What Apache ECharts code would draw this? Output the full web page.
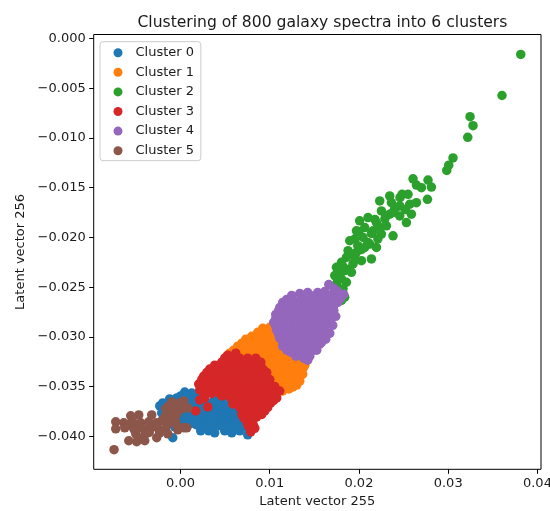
<!DOCTYPE html>
<html>
<head>
<meta charset="utf-8">
<script src="https://cdn.jsdelivr.net/npm/echarts@6/dist/echarts.min.js"></script>
<style>
html, body { margin: 0; padding: 0; background: #fff; }
#chart { width: 550px; height: 511px; }
</style>
</head>
<body>
<div id="chart"></div>
<script>
// Labels
const titleText = 'Clustering of 800 galaxy spectra into 6 clusters';
const xName = 'Latent vector 255';
const yName = 'Latent vector 256';
const clusterNames = ['Cluster 0', 'Cluster 1', 'Cluster 2', 'Cluster 3', 'Cluster 4', 'Cluster 5'];
const clusterColors = ['#1f77b4', '#ff7f0e', '#2ca02c', '#d62728', '#9467bd', '#8c564b'];

// Tick values
const xTicks = [0, 0.01, 0.02, 0.03, 0.04];
const yTicks = [0, -0.005, -0.01, -0.015, -0.02, -0.025, -0.03, -0.035, -0.04];

// Latent-space coordinates per cluster: [vector 255, vector 256]
const cluster0 = [
  [0.00048,-0.03553],[0.00127,-0.03563],[0.00216,-0.03563],[0.00071,-0.03583],
  [0.00003,-0.03593],[0.00082,-0.03593],[0.0016,-0.03593],
  [-0.0012,-0.03623],[-0.00041,-0.03613],[0.00037,-0.03623],[0.00115,-0.03633],[0.00194,-0.03623],[0.00384,-0.03623],[0.00463,-0.03633],
  [-0.00142,-0.03663],[-0.00198,-0.03663],[-0.00064,-0.03663],[0.00015,-0.03663],[0.00093,-0.03663],[0.00171,-0.03663],[0.0034,-0.03663],[0.00418,-0.03663],
  [-0.00232,-0.03693],[-0.00165,-0.03703],[-0.00086,-0.03683],[-0.00008,-0.03693],[0.00071,-0.03703],[0.00216,-0.03693],[0.00295,-0.03683],[0.00373,-0.03703],[0.00452,-0.03693],[0.0053,-0.03683],[0.00608,-0.03703],
  [0.00104,-0.03713],
  [-0.00187,-0.03733],[-0.00109,-0.03733],[-0.0003,-0.03733],[0.00048,-0.03733],[0.00127,-0.03733],[0.00283,-0.03733],[0.00362,-0.03733],[0.0044,-0.03733],[0.00519,-0.03733],[0.00597,-0.03733],
  [-0.0021,-0.03763],[-0.00142,-0.03773],[-0.00064,-0.03753],[0.00015,-0.03763],[0.00093,-0.03773],[0.0025,-0.03763],[0.00328,-0.03753],[0.00407,-0.03773],[0.00485,-0.03763],[0.00564,-0.03753],[0.00642,-0.03773],
  [-0.00041,-0.03803],
  [-0.00165,-0.03803],[-0.00086,-0.03803],[0.00003,-0.03803],[0.00082,-0.03803],[0.00183,-0.03803],[0.00272,-0.03803],[0.00351,-0.03803],[0.0044,-0.03803],[0.0053,-0.03803],[0.0062,-0.03803],[0.00698,-0.03803],
  [-0.0012,-0.03833],[-0.0003,-0.03843],[0.00059,-0.03823],[0.00138,-0.03833],[0.00216,-0.03843],[0.00306,-0.03833],[0.00396,-0.03823],[0.00485,-0.03843],[0.00575,-0.03833],[0.00664,-0.03843],
  [-0.00075,-0.03873],[0.00015,-0.03873],[0.00104,-0.03873],[0.00227,-0.03873],[0.00317,-0.03873],[0.00407,-0.03873],[0.00496,-0.03873],[0.00586,-0.03873],[0.00676,-0.03873],
  [-0.00064,-0.03903],[0.00183,-0.03883],[0.00272,-0.03903],[0.00362,-0.03913],[0.00452,-0.03893],[0.00541,-0.03903],[0.00631,-0.03913],[0.0072,-0.03903],[0.00664,-0.03903],
  [0.00227,-0.03943],[0.00317,-0.03943],[0.00496,-0.03943],[0.00664,-0.03943],
  [-0.00086,-0.04013],[0.00384,-0.03963],[0.00575,-0.03963],[0.00754,-0.03983]
];

const cluster1 = [
  [0.00922,-0.02913],[0.01001,-0.02903],[0.01068,-0.02923],
  [0.00866,-0.02953],[0.00956,-0.02953],[0.01034,-0.02953],
  [0.00799,-0.02993],[0.00877,-0.02973],[0.00956,-0.02983],[0.01034,-0.02993],[0.01113,-0.02973],
  [0.00732,-0.03023],[0.0081,-0.03023],[0.00889,-0.03023],[0.00967,-0.03023],[0.01045,-0.03023],[0.01124,-0.03023],
  [0.00687,-0.03063],[0.00765,-0.03043],[0.00844,-0.03053],[0.00922,-0.03063],[0.01001,-0.03043],[0.01079,-0.03053],[0.01169,-0.03063],
  [0.00642,-0.03093],[0.0072,-0.03093],[0.00799,-0.03093],[0.00877,-0.03093],[0.00956,-0.03093],[0.01034,-0.03093],[0.01113,-0.03093],[0.01191,-0.03093],
  [0.00597,-0.03133],[0.00676,-0.03113],[0.00754,-0.03123],[0.00833,-0.03133],[0.00911,-0.03113],[0.00989,-0.03123],[0.01068,-0.03133],[0.01146,-0.03113],[0.01236,-0.03123],
  [0.00552,-0.03163],[0.00642,-0.03163],[0.0072,-0.03163],[0.00799,-0.03163],[0.00877,-0.03163],[0.00956,-0.03163],[0.01034,-0.03163],[0.01113,-0.03163],[0.01191,-0.03163],[0.01269,-0.03163],
  [0.00519,-0.03193],[0.00597,-0.03203],[0.00676,-0.03183],[0.00754,-0.03193],[0.00833,-0.03203],[0.00911,-0.03183],[0.00989,-0.03193],[0.01068,-0.03203],[0.01146,-0.03183],[0.01225,-0.03193],[0.01303,-0.03203],
  [0.00552,-0.03233],[0.00911,-0.03233],[0.00989,-0.03233],[0.01068,-0.03233],[0.01146,-0.03233],[0.01225,-0.03233],[0.01303,-0.03233],[0.0137,-0.03233],
  [0.00496,-0.03263],[0.00709,-0.03273],[0.00866,-0.03253],[0.00945,-0.03263],[0.01023,-0.03273],[0.01102,-0.03253],[0.0118,-0.03263],[0.01258,-0.03273],[0.01337,-0.03253],[0.01393,-0.03283],
  [0.00922,-0.03303],[0.01001,-0.03303],[0.01079,-0.03303],[0.01158,-0.03303],[0.01236,-0.03303],[0.01315,-0.03303],[0.01382,-0.03303],
  [0.00889,-0.03333],[0.00967,-0.03343],[0.01045,-0.03323],[0.01124,-0.03333],[0.01202,-0.03343],[0.01281,-0.03323],[0.01359,-0.03333],
  [0.00922,-0.03373],[0.01001,-0.03373],[0.01079,-0.03373],[0.01158,-0.03373],[0.01236,-0.03373],[0.01315,-0.03373],[0.0137,-0.03373],
  [0.00933,-0.03403],[0.01012,-0.03413],[0.0109,-0.03393],[0.01169,-0.03403],[0.01247,-0.03413],[0.01337,-0.03403],
  [0.00967,-0.03443],[0.01045,-0.03443],[0.01124,-0.03443],[0.01202,-0.03443],[0.01281,-0.03443],[0.01337,-0.03443],
  [0.01001,-0.03473],[0.01079,-0.03483],[0.01158,-0.03463],[0.01236,-0.03473],[0.01303,-0.03483],
  [0.01034,-0.03503],[0.01113,-0.03503],[0.01191,-0.03503],[0.01258,-0.03503],
  [0.01068,-0.03533],[0.01146,-0.03543],[0.01213,-0.03523]
];

const cluster2 = [
  [0.03813,-0.0016],[0.03603,-0.00573],[0.03245,-0.00786],[0.03278,-0.00876],[0.03219,-0.00993],
  [0.03054,-0.0120],[0.03006,-0.01273],[0.02984,-0.01326],
  [0.02606,-0.0141],[0.02644,-0.01473],[0.02774,-0.01423],[0.02812,-0.01493],[0.02768,-0.01616],[0.0270,-0.0150],
  [0.02483,-0.01566],[0.0255,-0.01566],[0.02644,-0.0165],[0.02569,-0.01666],[0.02345,-0.01583],[0.0246,-0.0160],
  [0.02233,-0.01633],[0.02364,-0.0165],[0.02457,-0.01683],[0.02588,-0.01766],[0.02532,-0.0185],[0.02401,-0.01713],[0.0252,-0.0172],
  [0.02252,-0.01733],[0.02345,-0.01766],[0.02457,-0.01783],[0.02102,-0.018],[0.02196,-0.0185],[0.02308,-0.01883],[0.02382,-0.01983],
  [0.02008,-0.01833],[0.02291,-0.01813],[0.0230,-0.0178],[0.0238,-0.0175],[0.0218,-0.0182],
  [0.01972,-0.01933],[0.02065,-0.019],[0.02158,-0.01933],[0.02252,-0.01966],[0.0224,-0.0190],[0.0214,-0.0196],[0.0200,-0.0194],
  [0.01953,-0.02016],[0.02046,-0.02],[0.02121,-0.02066],[0.02196,-0.021],[0.02065,-0.021],[0.02212,-0.02013],[0.0210,-0.0205],
  [0.01878,-0.02133],[0.01972,-0.0215],[0.0214,-0.02216],[0.02028,-0.02233],[0.0186,-0.022],[0.01934,-0.02266],[0.0203,-0.0212],[0.0190,-0.0216],[0.0196,-0.0222],
  [0.01987,-0.02083],[0.01897,-0.02033],
  [0.01804,-0.0225],[0.01748,-0.023],[0.01841,-0.02333],[0.01916,-0.0235],[0.01729,-0.02383],[0.01804,-0.02416],[0.0182,-0.0229],[0.0189,-0.0232],
  [0.0186,-0.0245],[0.01748,-0.02466],[0.01822,-0.02516],[0.01785,-0.0235],[0.01804,-0.02633],[0.01751,-0.02583],[0.0176,-0.0242],[0.0184,-0.0260],[0.0178,-0.0255]
];

const cluster3 = [
  [0.0053,-0.03183],[0.0062,-0.03163],
  [0.00496,-0.03213],[0.00575,-0.03213],[0.00664,-0.03213],[0.00754,-0.03213],[0.00844,-0.03213],
  [0.00463,-0.03253],[0.00552,-0.03243],[0.00642,-0.03253],[0.00732,-0.03263],[0.00821,-0.03243],[0.009,-0.03253],
  [0.00384,-0.03283],
  [0.00452,-0.03288],[0.00541,-0.03288],[0.00631,-0.03288],[0.0072,-0.03288],[0.0081,-0.03288],[0.009,-0.03288],
  [0.00328,-0.03323],[0.00407,-0.03333],[0.00496,-0.03313],[0.00586,-0.03323],[0.00676,-0.03333],[0.00765,-0.03313],[0.00855,-0.03323],[0.00933,-0.03333],
  [0.00295,-0.03358],[0.00373,-0.03358],[0.00463,-0.03358],[0.00552,-0.03358],[0.00642,-0.03358],[0.00732,-0.03358],[0.00821,-0.03358],[0.00911,-0.03358],[0.00967,-0.03358],
  [0.00261,-0.03393],[0.0034,-0.03403],[0.00418,-0.03383],[0.00508,-0.03393],[0.00597,-0.03403],[0.00687,-0.03383],[0.00776,-0.03393],[0.00866,-0.03403],[0.00956,-0.03393],
  [0.00239,-0.03428],[0.00317,-0.03428],[0.00407,-0.03428],[0.00496,-0.03428],[0.00586,-0.03428],[0.00676,-0.03428],[0.00765,-0.03428],[0.00855,-0.03428],[0.00945,-0.03428],[0.01001,-0.03428],
  [0.00205,-0.03473],[0.00283,-0.03453],[0.00362,-0.03463],[0.00452,-0.03473],[0.00541,-0.03453],[0.00631,-0.03463],[0.0072,-0.03473],[0.0081,-0.03453],[0.009,-0.03463],[0.00989,-0.03473],
  [0.00239,-0.03498],[0.00351,-0.03498],[0.0044,-0.03498],[0.0053,-0.03498],[0.0062,-0.03498],[0.00709,-0.03498],[0.00799,-0.03498],[0.00889,-0.03498],[0.00978,-0.03498],[0.01057,-0.03498],
  [0.00216,-0.03533],[0.00306,-0.03543],[0.00396,-0.03523],[0.00485,-0.03533],[0.00575,-0.03543],[0.00664,-0.03523],[0.00754,-0.03533],[0.00844,-0.03543],[0.00933,-0.03523],[0.01023,-0.03533],[0.01113,-0.03543],
  [0.00261,-0.03568],[0.00351,-0.03568],[0.0044,-0.03568],[0.0053,-0.03568],[0.0062,-0.03568],[0.00709,-0.03568],[0.00799,-0.03568],[0.00889,-0.03568],[0.00978,-0.03568],[0.01068,-0.03568],
  [0.00272,-0.03613],[0.00463,-0.03593],[0.00552,-0.03603],[0.00642,-0.03613],[0.00732,-0.03593],[0.00821,-0.03603],[0.00911,-0.03613],[0.01001,-0.03593],[0.01079,-0.03613],
  [0.00216,-0.03633],[0.00306,-0.03703],
  [0.00631,-0.03638],[0.0072,-0.03638],[0.0081,-0.03638],[0.009,-0.03638],[0.00989,-0.03638],[0.01045,-0.03638],
  [0.00586,-0.03673],[0.00676,-0.03683],[0.00765,-0.03663],[0.00855,-0.03673],[0.00945,-0.03683],[0.01012,-0.03663],
  [0.00664,-0.03708],[0.00754,-0.03708],[0.00844,-0.03708],[0.00922,-0.03708],[0.00978,-0.03708],
  [0.00171,-0.03743],[0.0072,-0.03743],[0.00799,-0.03753],[0.00877,-0.03733],[0.00945,-0.03743],
  [0.00687,-0.03778],[0.00765,-0.03778],[0.00844,-0.03778],[0.00911,-0.03778],
  [0.00709,-0.03813],[0.00776,-0.03823],[0.00855,-0.03803],
  [0.00743,-0.03848],[0.0081,-0.03848],
  [0.00754,-0.03883],[0.00821,-0.03893],
  [0.00776,-0.03918],[0.00833,-0.03918],
  [0.00788,-0.03953]
];

const cluster4 = [
  [0.01662,-0.02473],[0.01718,-0.02513],
  [0.01337,-0.02563],[0.01426,-0.02553],[0.01538,-0.02553],[0.01617,-0.02543],[0.01762,-0.02543],[0.0183,-0.02573],
  [0.01247,-0.02583],[0.01393,-0.02583],[0.01505,-0.02583],[0.01673,-0.02583],[0.01785,-0.02583],
  [0.01191,-0.02623],[0.01269,-0.02633],[0.01359,-0.02613],[0.0146,-0.02633],[0.01561,-0.02613],[0.0165,-0.02603],[0.01729,-0.02623],[0.01796,-0.02613],
  [0.01146,-0.02653],[0.01236,-0.02653],[0.01326,-0.02653],[0.01415,-0.02653],[0.01505,-0.02653],[0.01594,-0.02653],[0.01684,-0.02653],[0.01762,-0.02653],
  [0.01113,-0.02703],[0.01191,-0.02693],[0.01281,-0.02683],[0.0137,-0.02703],[0.0146,-0.02693],[0.0155,-0.02683],[0.01639,-0.02703],[0.01718,-0.02683],
  [0.01101,-0.02733],[0.01191,-0.02733],[0.01281,-0.02733],[0.0137,-0.02733],[0.0146,-0.02733],[0.0155,-0.02733],[0.01639,-0.02733],[0.01718,-0.02733],
  [0.01068,-0.02773],[0.01146,-0.02783],[0.01236,-0.02763],[0.01326,-0.02783],[0.01415,-0.02763],[0.01505,-0.02783],[0.01594,-0.02773],[0.01684,-0.02763],[0.0174,-0.02793],
  [0.01068,-0.02813],[0.01169,-0.02813],[0.01258,-0.02813],[0.01348,-0.02813],[0.01437,-0.02813],[0.01527,-0.02813],[0.01617,-0.02813],[0.01695,-0.02813],
  [0.01045,-0.02853],[0.01124,-0.02863],[0.01213,-0.02843],[0.01303,-0.02863],[0.01393,-0.02853],[0.01482,-0.02843],[0.01572,-0.02863],[0.01662,-0.02843],[0.01706,-0.02883],
  [0.01068,-0.02893],[0.01158,-0.02893],[0.01258,-0.02893],[0.01348,-0.02893],[0.01437,-0.02893],[0.01527,-0.02893],[0.01617,-0.02893],
  [0.01079,-0.02933],[0.01169,-0.02943],[0.01258,-0.02923],[0.01348,-0.02943],[0.01437,-0.02933],[0.01527,-0.02923],[0.01617,-0.02943],[0.01673,-0.02963],
  [0.01101,-0.02973],[0.01202,-0.02973],[0.01303,-0.02973],[0.01393,-0.02973],[0.01482,-0.02973],[0.01572,-0.02973],[0.01639,-0.02973],
  [0.01113,-0.03013],[0.01202,-0.03023],[0.01292,-0.03003],[0.01381,-0.03023],[0.01471,-0.03013],[0.01561,-0.03003],[0.01628,-0.03023],
  [0.01146,-0.03053],[0.01247,-0.03053],[0.01337,-0.03053],[0.01426,-0.03053],[0.01516,-0.03053],[0.01583,-0.03053],
  [0.01146,-0.03093],[0.01236,-0.03103],[0.01326,-0.03083],[0.01415,-0.03103],[0.01505,-0.03083],[0.01561,-0.03073],
  [0.01191,-0.03133],[0.01281,-0.03133],[0.0137,-0.03133],[0.0146,-0.03133],[0.01527,-0.03133],
  [0.01236,-0.03153],[0.01326,-0.03163],[0.01404,-0.03183],[0.01471,-0.03143],
  [0.01292,-0.03193],[0.01359,-0.03193],[0.01449,-0.03193],
  [0.01381,-0.03213],[0.01426,-0.03233]
];

const cluster5 = [
  [-0.00744,-0.04133],
  [-0.00097,-0.03653],[-0.00008,-0.03663],[0.00037,-0.03643],[0.0003,-0.0368],
  [-0.00165,-0.03723],[-0.00075,-0.03733],[0.00015,-0.03723],[0.00082,-0.03713],[-0.0014,-0.0370],
  [-0.00557,-0.03793],[-0.00467,-0.03783],[-0.00322,-0.03783],[-0.00176,-0.03803],[-0.00097,-0.03793],[-0.00041,-0.03773],
  [-0.0021,-0.03843],[-0.0012,-0.03823],
  [-0.00725,-0.03853],[-0.00635,-0.03863],[-0.00534,-0.03853],[-0.00445,-0.03863],[-0.00355,-0.03853],[-0.00266,-0.03863],[-0.00142,-0.03873],[-0.00053,-0.03853],
  [-0.0058,-0.03883],[-0.0048,-0.03903],[-0.0029,-0.03893],[-0.0004,-0.03893],
  [-0.00725,-0.03923],[-0.00624,-0.03913],[-0.00523,-0.03923],[-0.00434,-0.03913],[-0.00344,-0.03923],[-0.00254,-0.03913],[-0.00165,-0.03923],[0.00037,-0.03913],[0.00071,-0.03913],[-0.0003,-0.03933],
  [-0.00501,-0.03973],[-0.004,-0.03983],[-0.00232,-0.03963],[-0.00142,-0.03973],[-0.0035,-0.0396],
  [-0.00579,-0.04043],[-0.0049,-0.04053],[-0.004,-0.04043],[-0.00266,-0.04013],[-0.00422,-0.04013]
];

const clusters = [cluster0, cluster1, cluster2, cluster3, cluster4, cluster5];

const FONT = 'DejaVu Sans';
const INK = '#1a1a1a';

function fmt(v, digits) {
  const s = Math.abs(v).toFixed(digits);
  return (v < -1e-12 ? '\u2212' : '') + s;
}

const chart = echarts.init(document.getElementById('chart'), null, { renderer: 'canvas' });

chart.setOption({
  animation: false,
  backgroundColor: '#fff',
  title: {
    text: titleText,
    left: 317.4,
    textAlign: 'center',
    top: 8,
    textStyle: { fontFamily: FONT, fontSize: 15.6, fontWeight: 'normal', color: INK, lineHeight: 19 }
  },
  legend: {
    orient: 'vertical',
    left: 100,
    top: 41.7,
    padding: [3.5, 6.8, 2.5, 13.5],
    itemWidth: 25,
    itemHeight: 9,
    itemGap: 4.6,
    icon: 'circle',
    borderColor: '#cccccc',
    borderWidth: 1,
    borderRadius: 3,
    backgroundColor: 'rgba(255,255,255,0.8)',
    textStyle: { fontFamily: FONT, fontSize: 13, color: INK, lineHeight: 15 },
    data: clusterNames
  },
  grid: {
    left: 93.7,
    right: 9,
    top: 34.5,
    bottom: 41.7,
    containLabel: false,
    outerBoundsMode: 'none',
    show: true,
    borderColor: '#000',
    borderWidth: 1,
    backgroundColor: '#fff'
  },
  xAxis: {
    type: 'value',
    min: -0.00972,
    max: 0.0404,
    name: xName,
    nameLocation: 'middle',
    nameGap: 26,
    nameTextStyle: { fontFamily: FONT, fontSize: 13, color: INK },
    axisLine: { show: false, onZero: false },
    axisTick: { show: true, length: 4.5, inside: false, lineStyle: { color: '#000', width: 1 }, customValues: xTicks },
    axisLabel: { margin: 8, fontFamily: FONT, fontSize: 13, color: INK, customValues: xTicks, formatter: v => fmt(v, 2) },
    splitLine: { show: false }
  },
  yAxis: {
    type: 'value',
    min: -0.0433,
    max: 0.0004,
    name: yName,
    nameLocation: 'middle',
    nameGap: 66,
    nameTextStyle: { fontFamily: FONT, fontSize: 13, color: INK },
    axisLine: { show: false, onZero: false },
    axisTick: { show: true, length: 4.5, inside: false, lineStyle: { color: '#000', width: 1 }, customValues: yTicks },
    axisLabel: { margin: 8, fontFamily: FONT, fontSize: 13, color: INK, customValues: yTicks, formatter: v => fmt(v, 3) },
    splitLine: { show: false }
  },
  series: clusters.map((pts, i) => ({
    name: clusterNames[i],
    type: 'scatter',
    data: pts,
    symbol: 'circle',
    symbolSize: 9.5,
    itemStyle: { color: clusterColors[i], opacity: 1 },
    emphasis: { disabled: true }
  }))
});
</script>
</body>
</html>
